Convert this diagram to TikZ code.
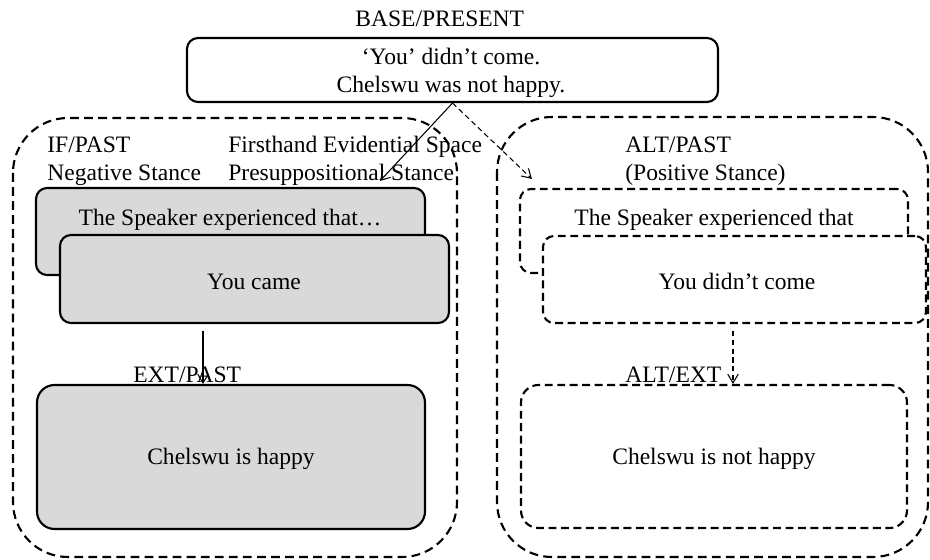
\documentclass[tikz,border=0pt]{standalone}
\usepackage{fontspec}
\setmainfont{Liberation Serif}
\usetikzlibrary{calc}
\usetikzlibrary{arrows.meta}
\usetikzlibrary{fit}

\tikzset{
    txt/.style={font=\fontsize{13.4}{16}\selectfont, inner sep=0pt},
    lbl/.style={txt, anchor=base west},
    solidbox/.style={draw, line width=1.2pt, rounded corners=0.22cm, inner sep=0pt},
    graybox/.style={solidbox, fill=gray!30},
    dashbox/.style={draw, line width=1.2pt, rounded corners=0.22cm, fill=white, inner sep=0pt, dash pattern=on 4.5pt off 2.6pt},
    region/.style={line width=1.2pt, rounded corners=1.1cm, dash pattern=on 5pt off 3pt},
    link/.style={line width=0.6pt, -{Straight Barb[length=5pt,width=6pt]}},
}

\begin{document}
\begin{tikzpicture}[x=0.02cm, y=-0.02cm]
    \useasboundingbox (0,0) rectangle (930,560);

    % the two spaces
    \draw[region] (13,118) rectangle (457,557);
    \draw[region] (497,117) rectangle (928,557);

    % base
    \node[lbl] (basetag) at (355,27) {BASE/PRESENT};
    \node[solidbox, fill=white, fit={(187,38) (718,102)}] (base) {};
    \node[txt, anchor=base] (basea) at (451,65) {‘You’ didn’t come.};
    \node[txt, anchor=base] (baseb) at (451,93) {Chelswu was not happy.};

    % left space
    \node[lbl] (iftag) at (47,153) {IF/PAST};
    \node[lbl] (ifstance) at (47,181) {Negative Stance};
    \node[lbl] (evtag) at (228,153) {Firsthand Evidential Space};
    \node[lbl] (evstance) at (228,181) {Presuppositional Stance};

    \node[graybox, fit={(36,188) (425,275)}] (ifspk) {};
    \node[txt] (ifspktxt) at (230,220) {The Speaker experienced that…};
    \node[graybox, fit={(60,235) (449,323)}] (youcame) {};
    \node[txt] (youcametxt) at (254,282) {You came};

    \node[lbl] (exttag) at (133,383) {EXT/PAST};
    \node[graybox, rounded corners=0.35cm, fit={(37,385) (425,529)}] (happy) {};
    \node[txt] (happytxt) at (231,459) {Chelswu is happy};

    % right space
    \node[lbl] (alttag) at (625,153) {ALT/PAST};
    \node[lbl] (altstance) at (625,181) {(Positive Stance)};

    \node[dashbox, fit={(520,189) (908,273)}] (altspk) {};
    \node[txt] (altspktxt) at (714,220) {The Speaker experienced that};
    \node[dashbox, fit={(543,236) (926,323)}] (youdidnt) {};
    \node[txt] (youdidnttxt) at (737,281) {You didn’t come};

    \node[lbl] (altext) at (625,383) {ALT/EXT};
    \node[dashbox, rounded corners=0.35cm, fit={(521,385) (907,528)}] (nothappy) {};
    \node[txt] (nothappytxt) at (714,459) {Chelswu is not happy};

    % links
    \draw[link] (base.south) -- ($(ifspk.north)+(149.5,-6)$);
    \draw[link, dash pattern=on 3pt off 2pt] (base.south) -- ($(altspk.north west)+(13,-9)$);

    \coordinate (ifgo) at ($(youcame.south)+(-51.5,7)$);
    \draw[link] (ifgo) -- (ifgo |- happy.north);
    \coordinate (altgo) at ($(youdidnt.south)+(-1.5,7)$);
    \draw[link, dash pattern=on 3pt off 2pt] (altgo) -- (altgo |- nothappy.north);

\end{tikzpicture}
\end{document}
